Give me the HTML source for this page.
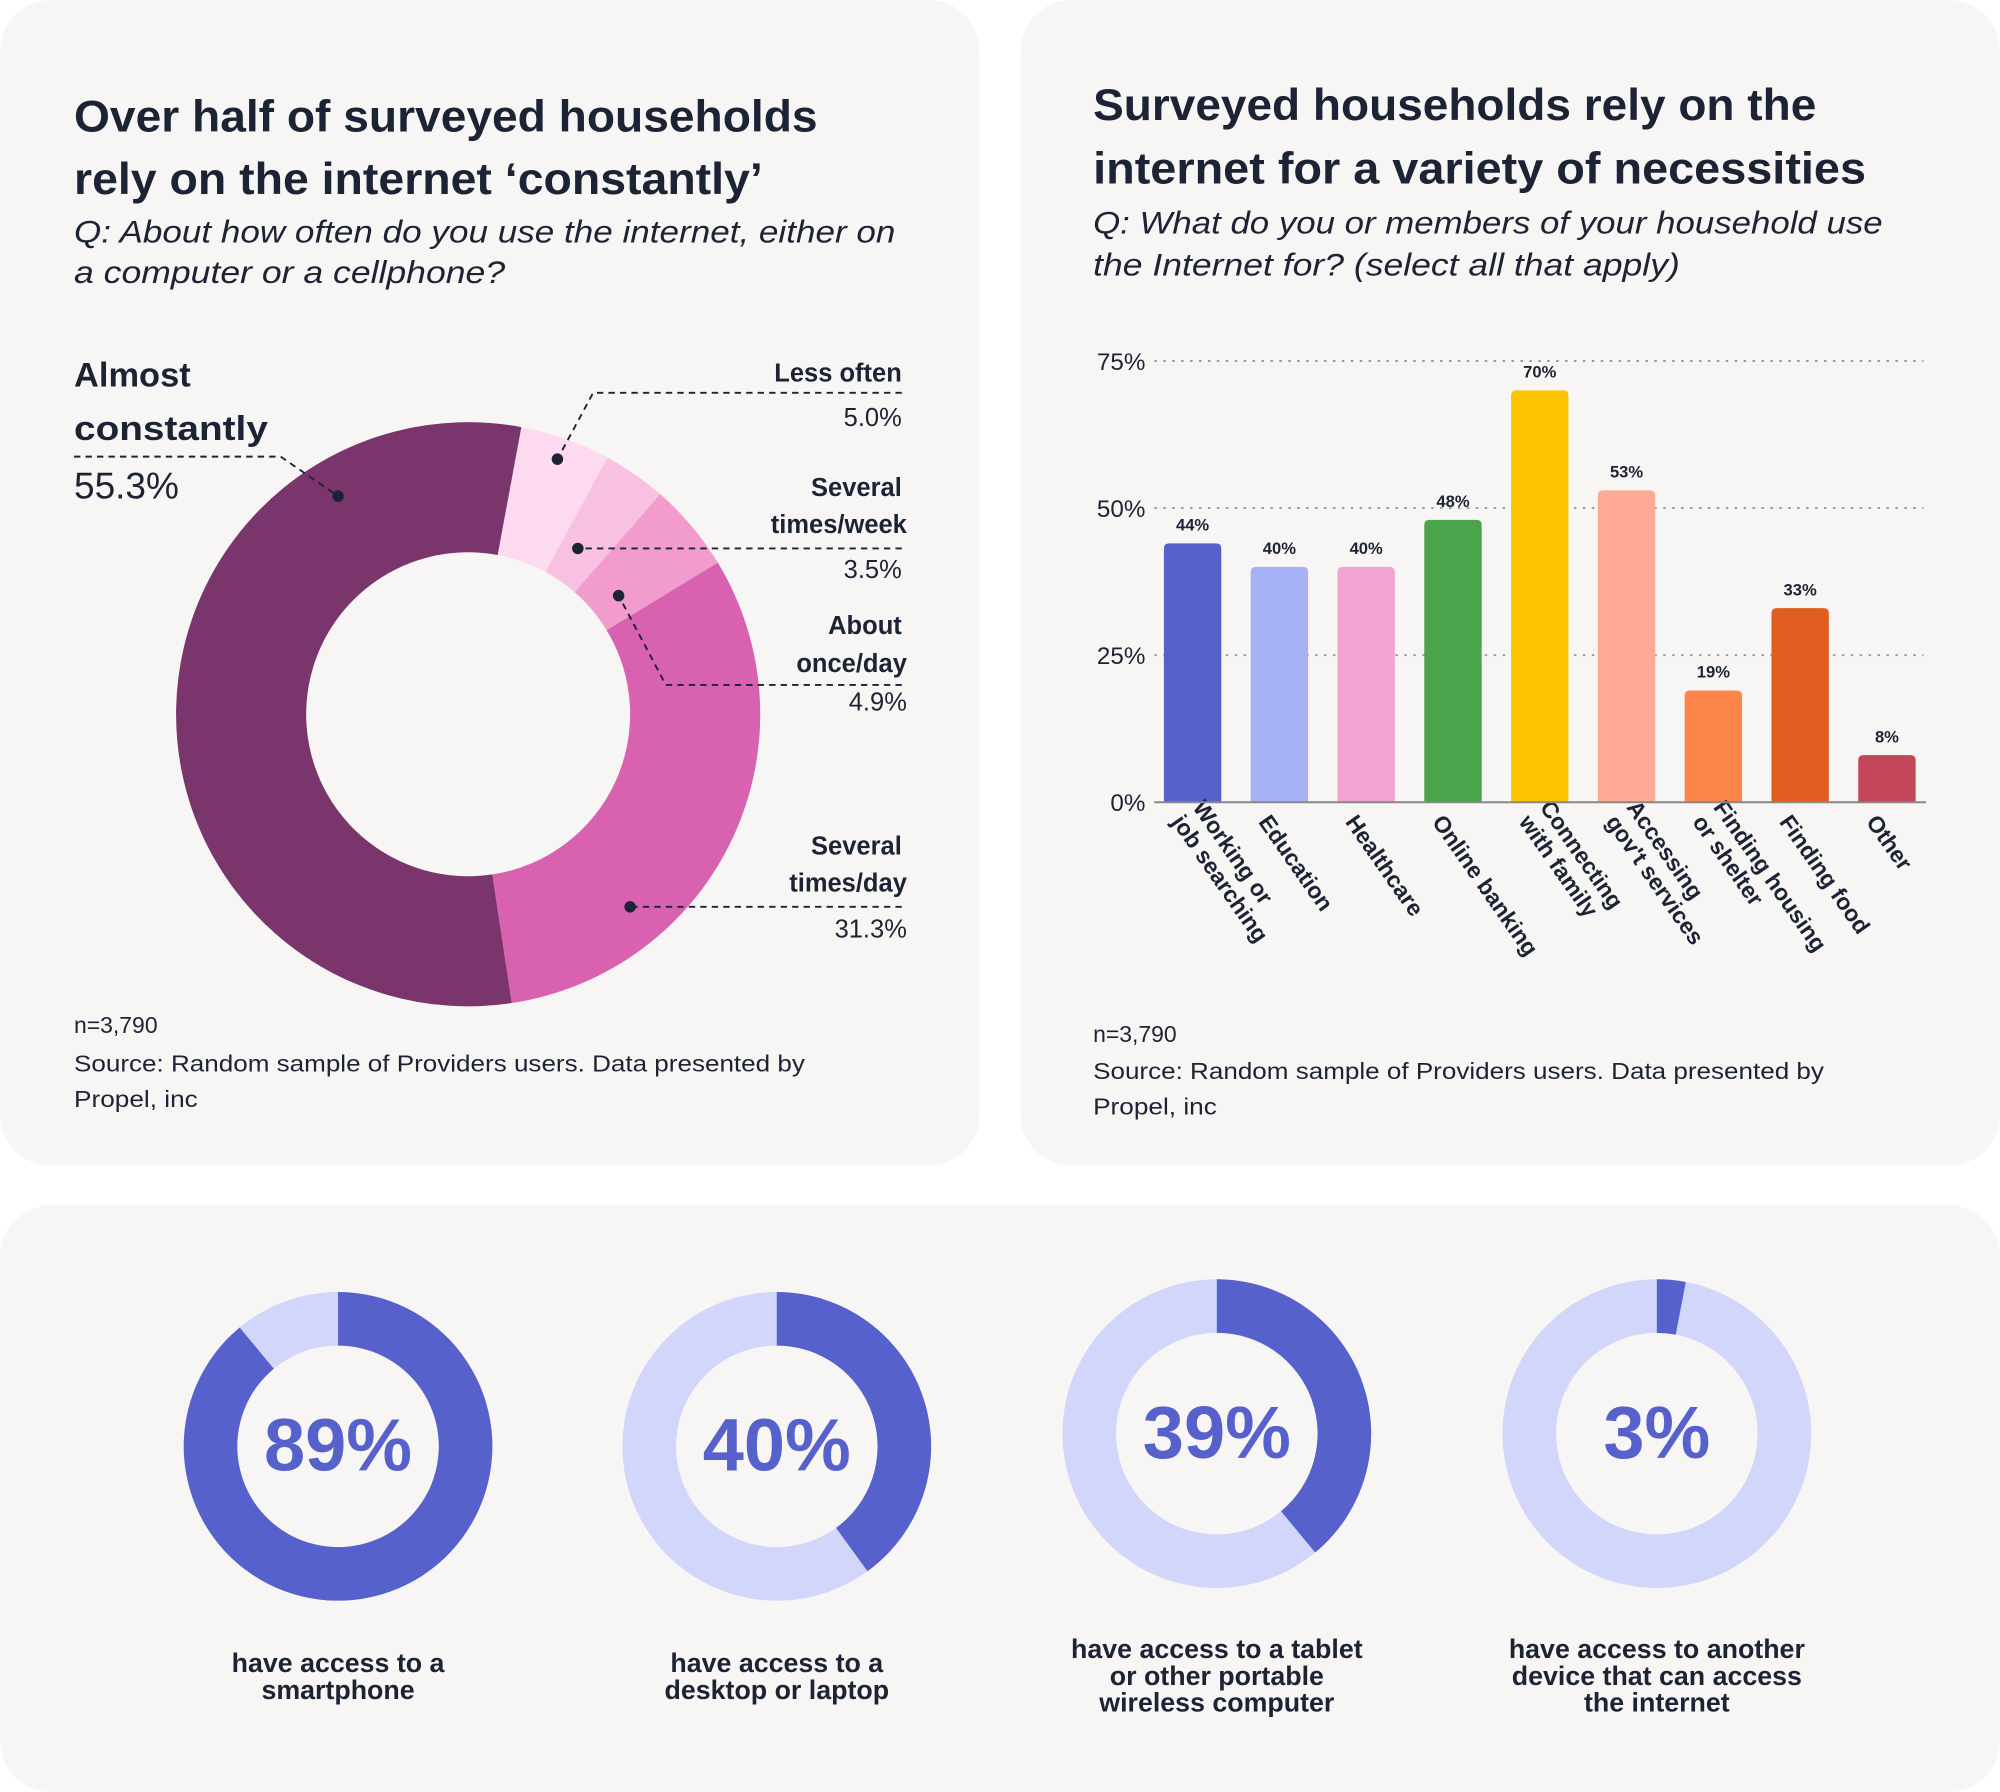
<!DOCTYPE html>
<html><head><meta charset="utf-8"><style>
html,body{margin:0;padding:0;background:#fff;}
svg{display:block;font-family:"Liberation Sans",Arial,sans-serif;}
.t{font-weight:bold;fill:#1c2335;}
.s{font-style:italic;fill:#1c2335;}
.n{fill:#1c2335;}
</style></head><body>
<svg id="s" width="2000" height="1792" viewBox="0 0 1568 1405">
<rect x="0" y="0" width="768" height="914" rx="40" fill="#f8f6f4"/>
<rect x="800" y="0" width="768" height="914" rx="40" fill="#f8f6f4"/>
<rect x="0" y="945" width="1568" height="460" rx="40" fill="#f8f6f4"/>

<g><text class="t" x="58" y="103" font-size="35" textLength="583" lengthAdjust="spacingAndGlyphs">Over half of surveyed households</text><text class="t" x="58" y="152" font-size="35" textLength="540" lengthAdjust="spacingAndGlyphs">rely on the internet ‘constantly’</text></g>
<g><text class="s" x="58" y="190" font-size="25" textLength="644" lengthAdjust="spacingAndGlyphs">Q: About how often do you use the internet, either on</text><text class="s" x="58" y="222" font-size="25" textLength="338" lengthAdjust="spacingAndGlyphs">a computer or a cellphone?</text></g>
<g id="donut"></g>
<g font-size="20" class="n">
<text class="t" x="58" y="303" font-size="27">Almost</text><text class="t" x="58" y="345" font-size="27" textLength="152" lengthAdjust="spacingAndGlyphs">constantly</text>
<text x="58" y="391" font-size="29" class="n">55.3%</text>
<path d="M58 358H220L265 389" stroke="#1c2335" fill="none" stroke-dasharray="5 4" stroke-width="1.5"/>
<text class="t" x="707" y="299" text-anchor="end">Less often</text><text x="707" y="334" text-anchor="end" class="n">5.0%</text>
<path d="M707 308H465L437 360" stroke="#1c2335" fill="none" stroke-dasharray="5 4" stroke-width="1.5"/>
<text class="t" x="707" y="389" text-anchor="end">Several</text><text class="t" x="711" y="418" text-anchor="end">times/week</text><text x="707" y="453" text-anchor="end" class="n">3.5%</text>
<path d="M707 430H453" stroke="#1c2335" fill="none" stroke-dasharray="5 4" stroke-width="1.5"/>
<text class="t" x="707" y="497" text-anchor="end">About</text><text class="t" x="711" y="527" text-anchor="end">once/day</text><text x="711" y="557" text-anchor="end" class="n">4.9%</text>
<path d="M707 537H522L485 467" stroke="#1c2335" fill="none" stroke-dasharray="5 4" stroke-width="1.5"/>
<text class="t" x="707" y="670" text-anchor="end">Several</text><text class="t" x="711" y="699" text-anchor="end">times/day</text><text x="711" y="735" text-anchor="end" class="n">31.3%</text>
<path d="M707 711H494" stroke="#1c2335" fill="none" stroke-dasharray="5 4" stroke-width="1.5"/>
<circle cx="265" cy="389" r="4.5" fill="#1c2335"/><circle cx="437" cy="360" r="4.5" fill="#1c2335"/><circle cx="453" cy="430" r="4.5" fill="#1c2335"/><circle cx="485" cy="467" r="4.5" fill="#1c2335"/><circle cx="494" cy="711" r="4.5" fill="#1c2335"/>
</g>
<g font-size="18" class="n"><text x="58" y="810" class="n">n=3,790</text><text x="58" y="840" class="n" textLength="573" lengthAdjust="spacingAndGlyphs">Source: Random sample of Providers users. Data presented by</text><text x="58" y="868" class="n" textLength="97" lengthAdjust="spacingAndGlyphs">Propel, inc</text></g>

<g><text class="t" x="857" y="94" font-size="35" textLength="567" lengthAdjust="spacingAndGlyphs">Surveyed households rely on the</text><text class="t" x="857" y="144" font-size="35" textLength="606" lengthAdjust="spacingAndGlyphs">internet for a variety of necessities</text></g>
<g><text class="s" x="857" y="183" font-size="25" textLength="619" lengthAdjust="spacingAndGlyphs">Q: What do you or members of your household use</text><text class="s" x="857" y="216" font-size="25" textLength="460" lengthAdjust="spacingAndGlyphs">the Internet for? (select all that apply)</text></g>
<g id="bars"></g>
<g font-size="18"><text x="857" y="817" class="n">n=3,790</text><text x="857" y="846" class="n" textLength="573" lengthAdjust="spacingAndGlyphs">Source: Random sample of Providers users. Data presented by</text><text x="857" y="874" class="n" textLength="97" lengthAdjust="spacingAndGlyphs">Propel, inc</text></g>

<g id="devices"></g>
</svg>
<script>
const freqCats=["Less often","Several times/week","About once/day","Several times/day","Almost constantly"];
const freqVals=[5.0,3.5,4.9,31.3,55.3];
const freqColors=["#fddaef","#f9c1e1","#f29ccd","#d862b0","#7a366c"];
const useCats=[["Working or","job searching"],["Education"],["Healthcare"],["Online banking"],["Connecting","with family"],["Accessing","gov't services"],["Finding housing","or shelter"],["Finding food"],["Other"]];
const useVals=[44,40,40,48,70,53,19,33,8];
const useLabels=["44%","40%","40%","48%","70%","53%","19%","33%","8%"];
const useColors=["#5661cc","#a7b1f5","#f3a3d1","#4aa44c","#fdc403","#fea896","#fd8549","#e05d1f","#c2455a"];
const yTicks=[0,25,50,75];
const devVals=[89,40,39,3];
const devLabels=[["have access to a","smartphone"],["have access to a","desktop or laptop"],["have access to a tablet","or other portable","wireless computer"],["have access to another","device that can access","the internet"]];
const NS="http://www.w3.org/2000/svg";
function mk(tag,attrs,parent){const e=document.createElementNS(NS,tag);for(const k in attrs)e.setAttribute(k,attrs[k]);parent.appendChild(e);return e;}
function arc(cx,cy,R,r,a0,a1){const p=(rad,a)=>[cx+rad*Math.sin(a*Math.PI/180),cy-rad*Math.cos(a*Math.PI/180)];const lg=(a1-a0)>180?1:0;const [x1,y1]=p(R,a0),[x2,y2]=p(R,a1),[x3,y3]=p(r,a1),[x4,y4]=p(r,a0);return `M${x1} ${y1}A${R} ${R} 0 ${lg} 1 ${x2} ${y2}L${x3} ${y3}A${r} ${r} 0 ${lg} 0 ${x4} ${y4}Z`;}
const dg=document.getElementById('donut');let a=10.5;const tot=freqVals.reduce((s,v)=>s+v,0);
freqVals.forEach((v,i)=>{const a1=a+v/tot*360;const e=mk('path',{d:arc(367,560,229,127,a,Math.min(a1,a+359.99)),fill:freqColors[i]},dg);

a=a1;});
const bg=document.getElementById('bars');const y0=629,pp=4.613;const ys=v=>y0-v*pp;const xs=i=>935+i*68.05;
yTicks.forEach(t=>{const tx=mk('text',{x:898,y:ys(t)+7,'text-anchor':'end','font-size':19,fill:'#1c2335'},bg);tx.textContent=t+'%';


if(t>0){const l=mk('line',{x1:905,x2:1508,y1:ys(t),y2:ys(t),stroke:'#999','stroke-dasharray':'2 5','stroke-width':1.5},bg);

}});
useVals.forEach((v,i)=>{const x=xs(i);const b=mk('path',{d:`M${x-22.5} ${y0}V${ys(v)+4}Q${x-22.5} ${ys(v)} ${x-18.5} ${ys(v)}H${x+18.5}Q${x+22.5} ${ys(v)} ${x+22.5} ${ys(v)+4}V${y0}Z`,fill:useColors[i]},bg);


const vl=mk('text',{x:x,y:ys(v)-10,'text-anchor':'middle','font-size':13,'font-weight':'bold',fill:'#1c2335'},bg);vl.textContent=useLabels[i];


const g=mk('g',{transform:`translate(${x-12},${y0+12}) rotate(55)`},bg);


const lines=useCats[i];lines.forEach((s,j)=>{const tt=mk('text',{x:0,y:(j-(lines.length-1))*20+6,'font-size':18,'font-weight':'bold',fill:'#1c2335'},g);tt.textContent=s;});});
const ax=mk('line',{x1:905,x2:1510,y1:y0,y2:y0,stroke:'#888','stroke-width':1.5},bg);


const dv=document.getElementById('devices');const cxs=[265,609,954,1299],cys=[1134,1134,1124,1124];
devVals.forEach((v,i)=>{const g=mk('g',{},dv);


mk('path',{d:arc(cxs[i],cys[i],121,79,0,359.99),fill:'#d1d6fa'},g);
mk('path',{d:arc(cxs[i],cys[i],121,79,0,v*3.6),fill:'#5661cc'},g);
const t=mk('text',{x:cxs[i],y:cys[i]+19,'text-anchor':'middle','font-size':58,'font-weight':'bold',fill:'#5661cc'},g);t.textContent=v+'%';
const n=devLabels[i].length;const base=n===2?1311:1300;
devLabels[i].forEach((s,j)=>{const tt=mk('text',{x:cxs[i],y:base+j*21,'text-anchor':'middle','font-size':21,'font-weight':'bold',fill:'#1c2335'},g);tt.textContent=s;});});
</script>
</body></html>
